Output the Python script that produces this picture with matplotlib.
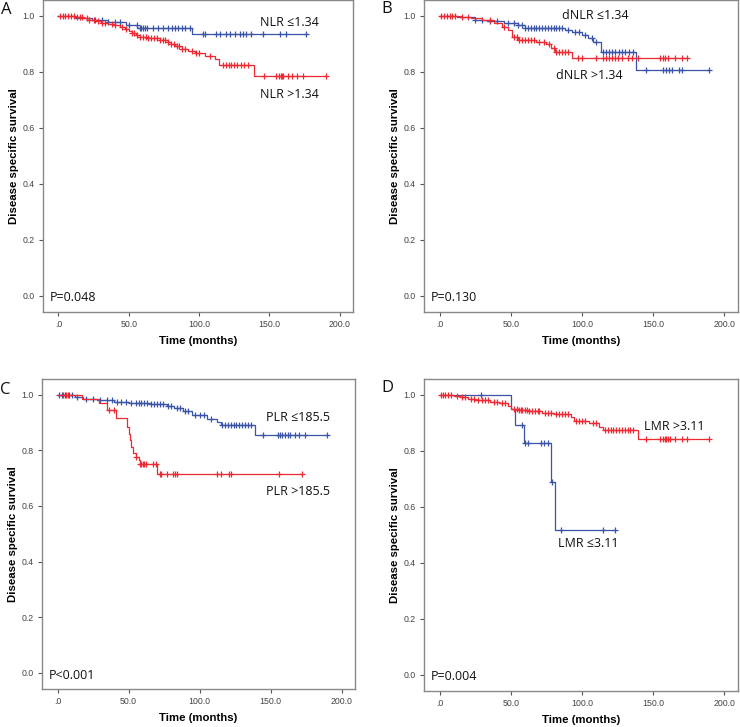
import numpy as np
import matplotlib
matplotlib.use('Agg')
import matplotlib.pyplot as plt

# == data (times in months, survival after each event)
xticks = [0, 50, 100, 150, 200]
xtick_labels = ['.0', '50.0', '100.0', '150.0', '200.0']
yticks = [0.0, 0.2, 0.4, 0.6, 0.8, 1.0]
ytick_labels = ['0.0', '0.2', '0.4', '0.6', '0.8', '1.0']

# panel A
a_blue_t = [12, 24, 35, 48, 56, 95]
a_blue_s = [0.99, 0.985, 0.978, 0.966, 0.955, 0.934]
a_blue_c = [26, 31, 35.5, 40, 44, 50, 55.6, 58, 59, 60.4, 61.5, 62.7, 67.5, 71, 74.6, 78, 80.5,
            82.8, 85.2, 87.6, 90, 93.5, 103, 104, 112.4, 114.8, 119.5, 122, 125.4, 129, 131.4,
            133.7, 137.3, 145.6, 157.4, 162, 176]
a_red_t = [12, 18, 22, 27, 30, 35, 40, 44, 47, 50, 52, 55, 58, 63, 72, 78, 80, 83, 88, 92, 97,
           104, 111, 114, 139]
a_red_s = [0.995, 0.99, 0.985, 0.98, 0.975, 0.97, 0.965, 0.96, 0.952, 0.944, 0.937, 0.93, 0.925,
           0.92, 0.914, 0.905, 0.898, 0.89, 0.882, 0.875, 0.868, 0.856, 0.845, 0.824, 0.785]
a_red_c = [1, 3, 5, 7, 9, 11, 13, 15, 17, 20, 22, 25, 28, 31, 33, 38, 40, 45, 48, 52, 54, 56, 58,
           60, 62, 64, 66, 68, 70, 72, 74, 76, 78, 80, 82, 84, 86, 88, 90, 95, 98, 100, 108, 117,
           119, 121, 123, 125, 127, 130, 132, 135, 146, 155, 157, 158, 159, 160, 163, 166, 170,
           174, 190]

# panel B
b_blue_t = [12, 25, 33, 45, 55, 60, 88, 93, 100, 104, 108, 113, 138]
b_blue_s = [0.995, 0.985, 0.98, 0.975, 0.965, 0.955, 0.95, 0.94, 0.93, 0.92, 0.907, 0.871, 0.806]
b_blue_c = [25, 30, 35, 40, 48, 52, 55, 58, 60, 62, 64, 66, 68, 70, 72, 74, 76, 78, 80, 82, 84,
            86, 90, 95, 98, 102, 107, 110, 115, 117, 119, 121, 123, 126, 128, 130, 133, 136, 145,
            157, 159, 161, 163, 168, 170, 189]
b_red_t = [15, 22, 30, 38, 44, 48, 51, 55, 68, 75, 78, 81, 93]
b_red_s = [0.995, 0.99, 0.985, 0.975, 0.96, 0.949, 0.925, 0.913, 0.907, 0.898, 0.883, 0.869, 0.848]
b_red_c = [1, 3, 5, 7, 9, 11, 16, 20, 35, 45, 52, 54, 56, 58, 60, 62, 64, 66, 70, 73, 77, 80, 82,
           84, 86, 88, 90, 97, 100, 110, 115, 117, 119, 121, 123, 125, 128, 132, 135, 139, 155,
           157, 158, 160, 165, 170, 174]

# panel C
c_blue_t = [12, 18, 28, 40, 50, 65, 77, 82, 88, 95, 105, 112, 115, 139]
c_blue_s = [0.99, 0.985, 0.98, 0.975, 0.97, 0.965, 0.96, 0.95, 0.94, 0.926, 0.914, 0.903, 0.889,
            0.853]
c_blue_c = [1, 3, 5, 8, 10, 14, 20, 25, 30, 35, 38, 42, 45, 48, 52, 55, 57, 59, 61, 63, 66, 68,
            70, 72, 74, 78, 80, 84, 86, 90, 92, 97, 100, 103, 108, 116, 118, 120, 122, 124, 126,
            128, 130, 132, 134, 136, 145, 155, 157, 158, 160, 162, 164, 167, 170, 174, 190]
c_red_t = [17, 29, 35, 41, 49, 50, 51, 52, 53, 55, 57, 58, 70]
c_red_s = [0.985, 0.968, 0.945, 0.915, 0.885, 0.86, 0.835, 0.81, 0.79, 0.777, 0.765, 0.75, 0.713]
c_red_c = [4, 6, 7, 36, 40, 55, 58, 59, 60, 61, 62, 67, 69, 72, 73, 77, 81, 83, 84, 112, 115,
           121, 122, 156, 172]

# panel D
d_blue_t = [50, 53, 59, 78, 81]
d_blue_s = [0.948, 0.891, 0.828, 0.689, 0.517]
d_blue_c = [29, 58, 60, 62, 71, 73, 76, 79, 85, 115, 123]
d_red_t = [10, 14, 20, 25, 35, 42, 48, 50, 55, 62, 72, 80, 92, 94, 105, 112, 115, 139]
d_red_s = [0.995, 0.99, 0.985, 0.98, 0.975, 0.97, 0.96, 0.95, 0.945, 0.94, 0.935, 0.93, 0.92,
           0.907, 0.9, 0.885, 0.875, 0.841]
d_red_c = [1, 2, 4, 6, 8, 12, 16, 18, 22, 24, 27, 30, 32, 34, 38, 40, 44, 46, 52, 54, 56, 57, 58,
           60, 61, 63, 65, 67, 69, 70, 74, 76, 78, 82, 84, 86, 88, 90, 96, 98, 100, 102, 108, 110,
           116, 118, 120, 122, 124, 126, 128, 130, 132, 134, 136, 145, 155, 157, 158, 159, 160,
           162, 165, 170, 174, 189]

BLUE = '#3A55A8'
RED = '#EC2A33'
TXT = ['Open Sans', 'DejaVu Sans']

panels = [
    # letter, axes box in px (left, top, right, bottom), curves, labels, p-text, letter pos
    ('A', (43, 0, 353, 312),
     [(a_blue_t, a_blue_s, a_blue_c, BLUE), (a_red_t, a_red_s, a_red_c, RED)],
     [('NLR ≤1.34', 143, 0.974), ('NLR >1.34', 143, 0.72)], 'P=0.048', (1, 10)),
    ('B', (424, 0, 738, 312),
     [(b_blue_t, b_blue_s, b_blue_c, BLUE), (b_red_t, b_red_s, b_red_c, RED)],
     [('dNLR ≤1.34', 85.6, 1.0), ('dNLR >1.34', 81.6, 0.785)], 'P=0.130', (381, 9)),
    ('C', (42, 379, 355, 689),
     [(c_blue_t, c_blue_s, c_blue_c, BLUE), (c_red_t, c_red_s, c_red_c, RED)],
     [('PLR ≤185.5', 146.8, 0.916), ('PLR >185.5', 146.8, 0.651)], 'P<0.001', (0, 390)),
    ('D', (424, 379, 738, 691),
     [(d_blue_t, d_blue_s, d_blue_c, BLUE), (d_red_t, d_red_s, d_red_c, RED)],
     [('LMR >3.11', 143.8, 0.885), ('LMR ≤3.11', 82.8, 0.467)], 'P=0.004', (381, 388)),
]

W, H = 740, 727
fig = plt.figure(figsize=(W / 100, H / 100), dpi=100)


def km_value(times, surv, t):
    idx = np.searchsorted(np.asarray(times), t, side='right')
    vals = np.concatenate([[1.0], surv])
    return vals[idx]


for letter, box, curves, labels, ptext, lpos in panels:
    l, t, r, b = box
    ax = fig.add_axes([l / W, 1 - b / H, (r - l) / W, (b - t) / H])
    ax.set_xlim(-11, 209.5)
    ax.set_ylim(-0.058, 1.056)

    for times, surv, cens, col in curves:
        end = max(max(cens), max(times))
        xs = [0] + list(times) + [end]
        ys = [1.0] + list(surv) + [surv[-1]]
        ax.step(xs, ys, where='post', color=col, lw=0.9)
        cy = km_value(times, surv, np.asarray(cens))
        ax.plot(cens, cy, linestyle='none', marker='+', ms=5, mew=0.9, color=col)

    for txt, x, y in labels:
        ax.text(x, y, txt, fontsize=9, family=TXT, va='center', ha='left', color='#111111')
    ax.text(-6, -0.008, ptext, fontsize=9, family=TXT, va='center', ha='left', color='#111111')

    ax.set_xticks(xticks)
    ax.set_xticklabels(xtick_labels)
    ax.set_yticks(yticks)
    ax.set_yticklabels(ytick_labels)
    ax.tick_params(direction='out', length=3, width=0.8, color='#555555', labelsize=6.3,
                   labelcolor='#444444', pad=3)
    for lab in ax.get_xticklabels() + ax.get_yticklabels():
        lab.set_family('Liberation Sans')
    for sp in ax.spines.values():
        sp.set_color('#888888')
        sp.set_linewidth(1.0)

    ax.set_xlabel('Time (months)', fontsize=8.2, fontweight='bold', family='Liberation Sans')
    ax.set_ylabel('Disease specific survival', fontsize=8.2, fontweight='bold',
                  family='Liberation Sans')
    ax.xaxis.set_label_coords(0.5, -0.078)
    ax.yaxis.set_label_coords(-0.078, 0.5)

    fig.text(lpos[0] / W, 1 - lpos[1] / H, letter, fontsize=12, family=TXT, va='center',
             ha='left', color='#111111')

fig.savefig('out.png', dpi=100)
